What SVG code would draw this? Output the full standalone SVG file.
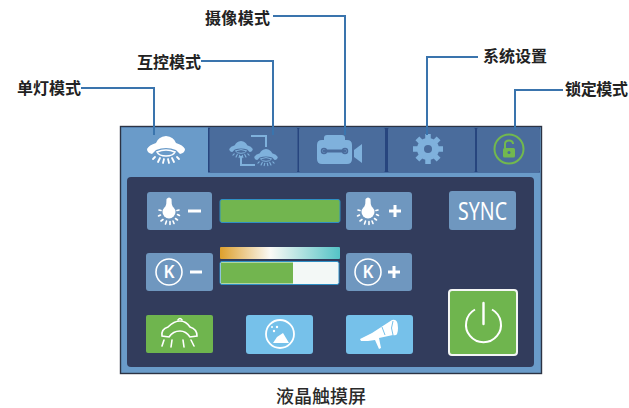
<svg xmlns="http://www.w3.org/2000/svg" width="629" height="408" viewBox="0 0 629 408">
<style>
.lb{font:700 16px "Noto Sans CJK SC","Liberation Sans",sans-serif;fill:#222}
.cap{font:500 18px "Noto Sans CJK SC","Liberation Sans",sans-serif;fill:#2a2a2a}
.cn{fill:none;stroke:#3a74ad;stroke-width:2}
.tab{fill:#4a6c9c}
.btn{fill:#6f97bf}
.blue{fill:#76c1ea}
.w{fill:none;stroke:#fff;stroke-width:1.6;stroke-linecap:round}
.wf{fill:#fff}
.lt{fill:none;stroke:#7fb1dc;stroke-width:2}
.ltf{fill:#7fb1dc}
</style>
<defs>
<g id="bulb">
<circle cx="0" cy="0" r="6.500" fill="#fff"/><path d="M-4.500,-3 Q-2,-8 -2.500,-13 Q0,-16 2.500,-13 Q2,-8 4.500,-3Z" fill="#fff"/>
<path d="M-10,-2 L-8,-1.500 M-10.500,4 L-8.500,3 M-8,9 L-6,7.500 M-3.500,12 L-2.500,9 M1,12.500 V9.500 M5,11.500 L4,9 M8.500,8 L6.500,6.500 M10.500,3.500 L8.500,2.500 M10,-2 L8,-1.500" class="w"/>
</g>
<g id="kk">
<circle cx="0" cy="0" r="13" fill="none" stroke="#fff" stroke-width="1.600"/>
<text x="0" y="6.300" text-anchor="middle" font-family="Noto Sans,sans-serif" font-size="17" font-weight="600" fill="#fff">K</text>
</g>
<g id="lamp">
<path d="M-19,0 Q-17,-4 -10,-6 Q-8,-12 0,-13 Q8,-12 10,-6 Q17,-4 19,0 Q19,4 14,5 L10,1 Q0,-3 -10,1 L-14,5 Q-19,4 -19,0Z" fill="currentColor"/>
<path d="M-9,3 Q0,-1 9,3 Q7,7 0,7 Q-7,7 -9,3Z" fill="none" stroke="currentColor" stroke-width="1.600"/>
<path d="M-11,8 L-13,10 M-6,9 L-8,13 M-2,10 L-3,14 M2,10 L3,14 M6,9 L8,13 M11,8 L13,10" fill="none" stroke="currentColor" stroke-width="1.800" stroke-linecap="round"/>
</g>
<linearGradient id="cct" x1="0" x2="1" y1="0" y2="0">
<stop offset="0" stop-color="#dd9f2c"/><stop offset=".42" stop-color="#fbfaf6"/><stop offset="1" stop-color="#54c3c6"/>
</linearGradient>
</defs>
<rect id="frame" x="120.500" y="126.500" width="421" height="247" fill="#6a9bc9" stroke="#2c3344" stroke-width="1.400"/>
<rect x="122" y="127.500" width="418" height="45" fill="#27457e"/>
<g id="tabs">
<g id="tab-single"><rect x="122" y="127.500" width="86" height="50" fill="#6a9bc9"/>
<use href="#lamp" transform="translate(166,149)" color="#fff"/></g>
<g id="tab-mutual"><rect x="209.500" y="127.500" width="88" height="45" rx="2" class="tab"/>
<use href="#lamp" transform="translate(241,149) scale(.62)" color="#7fb1dc"/>
<use href="#lamp" transform="translate(266,157) scale(.62)" color="#7fb1dc"/>
<path d="M251,136 H266 V147 M241,156 V165 H255" class="lt"/></g>
<g id="tab-camera"><rect x="299" y="127.500" width="86" height="45" rx="2" class="tab"/>
<path d="M324,140 V138 Q324,135 327,135 H342 Q345,135 345,138 V140 H347 Q352,140 352,145 V159 Q352,164 347,164 H322 Q317,164 317,159 V145 Q317,140 322,140Z" class="ltf"/>
<path d="M354,150 L362,144 V163 L354,157Z" class="ltf"/>
<path d="M324,151 H345" fill="none" stroke="#4a6c9c" stroke-width="3" stroke-linecap="round"/>
<circle cx="324" cy="151" r="2.500" fill="none" stroke="#4a6c9c" stroke-width="1.500"/><circle cx="345" cy="151" r="2.500" fill="none" stroke="#4a6c9c" stroke-width="1.500"/></g>
<g id="tab-settings"><rect x="388" y="127.500" width="87" height="45" rx="2" class="tab"/>
<circle cx="428" cy="149" r="11" class="ltf"/>
<path d="M428,134 V164 M413,149 H443 M417.400,138.400 L438.600,159.600 M438.600,138.400 L417.400,159.600" stroke="#7fb1dc" stroke-width="5.500" fill="none"/>
<circle cx="428" cy="149" r="4" class="tab"/></g>
<g id="tab-lock"><rect x="477" y="127.500" width="63" height="45" rx="2" class="tab"/>
<circle cx="509" cy="149" r="14.500" fill="none" stroke="#72b84e" stroke-width="2"/>
<rect x="503" y="148" width="12" height="9.500" rx="1.500" fill="#72b84e"/><path d="M505,148 V144 Q505,140.500 509,140.500 Q513,140.500 513,144" fill="none" stroke="#72b84e" stroke-width="2"/><circle cx="509" cy="152.500" r="1.500" fill="#4a6c9c"/></g>
</g>
<rect id="panel" x="127" y="177" width="407" height="190" rx="4" fill="#323c5c"/>
<g id="bulb-minus"><rect x="147" y="192" width="65" height="38" rx="3" class="btn"/><use href="#bulb" x="169" y="212"/><rect x="188" y="209.500" width="13" height="3" class="wf"/></g>
<g id="brightness"><rect x="220" y="199.500" width="120" height="23" rx="2" fill="#72b54f" stroke="#2f8fc4"/></g>
<g id="bulb-plus"><rect x="346" y="192" width="66" height="38" rx="3" class="btn"/><use href="#bulb" x="368" y="212"/><path d="M389,211 H401 M395,205 V217" fill="none" stroke="#fff" stroke-width="3"/></g>
<g id="sync"><rect x="449" y="191" width="67" height="39" rx="3" class="btn"/><text x="482.500" y="220" text-anchor="middle" font-family="Noto Sans,sans-serif" font-size="25" fill="#fff" textLength="49" lengthAdjust="spacingAndGlyphs">SYNC</text></g>
<g id="k-minus"><rect x="146" y="253" width="67" height="38" rx="3" class="btn"/><use href="#kk" x="169" y="272"/><rect x="190" y="270.500" width="12" height="3" class="wf"/></g>
<g id="cct-bar"><rect x="220" y="247" width="120" height="12" rx="1" fill="url(#cct)"/>
<rect x="220" y="261.500" width="119" height="23" rx="2" fill="#f3f8f6" stroke="#2f8fc4"/><rect x="221" y="262.500" width="72" height="21" fill="#72b54f"/></g>
<g id="k-plus"><rect x="346" y="253" width="66" height="38" rx="3" class="btn"/><use href="#kk" x="368" y="272"/><path d="M388,272 H400 M394,266 V278" fill="none" stroke="#fff" stroke-width="3"/></g>
<g id="lamp-btn"><rect x="146" y="315" width="67" height="38" rx="2" fill="#6fb54e"/>
<g class="w"><path d="M162,336 Q161,329 168,327 Q174,321 180,321 Q186,321 190,327 Q197,329 197,336 L190,337 Q186,331 180,331 Q173,331 169,337Z"/><path d="M178,320 Q180,317 182,320 M164,340 L162,346 M172,340 L171,347 M183,340 L184,347 M191,340 L194,346"/></g></g>
<g id="scene-btn"><rect x="246" y="315" width="67" height="39" rx="3" class="blue"/>
<circle cx="280" cy="334" r="14" fill="none" stroke="#fff" stroke-width="1.800"/><path d="M273,343 L277,337 L280,335 L283,333 L286,338 L289,343Z" class="wf"/><circle cx="274" cy="331" r="1.200" class="wf"/><circle cx="277" cy="327" r="1.200" class="wf"/><circle cx="272" cy="327" r="1" class="wf"/></g>
<g id="scope-btn"><rect x="346" y="315" width="67" height="39" rx="3" class="blue"/>
<path d="M360,339 L372,333 L392,320 Q398,318 398,328 Q398,337 393,335 L379,338 L381,348 L379,349 L375,340 L368,341 L361,341Z" class="wf"/><path d="M382,327 L385,335 M393,321 Q390,328 393,335" fill="none" stroke="#76c1ea" stroke-width="1"/></g>
<g id="power"><rect x="449" y="290" width="68" height="65" rx="3" fill="#6fb54e" stroke="#f4f6f4" stroke-width="2"/>
<path d="M475,309.500 A17.500,17.500 0 1 0 492,309.500" fill="none" stroke="#fff" stroke-width="2"/><path d="M483.500,303 V324" stroke="#fff" stroke-width="2.400" stroke-linecap="round"/></g>
<g id="connectors">
<path d="M81,88 H154 V135" class="cn"/>
<path d="M201,61 H273 V135" class="cn"/>
<path d="M273,16 H345 V135" class="cn"/>
<path d="M478,57 H427 V135" class="cn"/>
<path d="M563,90 H515 V130" class="cn"/>
</g>
<g id="labels">
<text x="17" y="94" class="lb" textLength="64">单灯模式</text>
<text x="137" y="68" class="lb" textLength="64">互控模式</text>
<text x="205" y="24" class="lb" textLength="65">摄像模式</text>
<text x="483" y="62" class="lb" textLength="64">系统设置</text>
<text x="565" y="95" class="lb" textLength="63">锁定模式</text>
<text x="276" y="403" class="cap">液晶触摸屏</text>
</g>
</svg>
